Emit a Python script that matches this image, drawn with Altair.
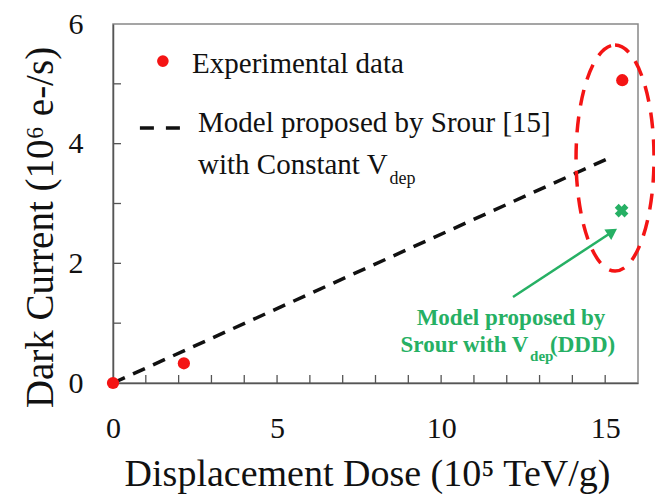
import altair as alt
import pandas as pd

# ---- data ----
exp_x = [0.0, 2.16, 15.52]
exp_y = [0.0, 0.33, 5.06]
model_x = [0.0, 15.24]
model_y = [0.0, 3.79]
ddd_x = [15.50]
ddd_y = [2.88]

x_ticks = list(range(1, 16))
y_ticks = [1, 2, 3, 4, 5]

# annotation anchors (data units)
ellipse_x = [15.30]
ellipse_y = [3.76]
leg_dot_x = [1.52]
leg_dot_y = [5.38]
leg_line_x = [0.82, 2.05]
leg_line_y = [4.262, 4.262]
arrow_x = [12.19]
arrow_y = [1.437]
arrow_x2 = [15.22]
arrow_y2 = [2.528]

FONT = "Liberation Serif"
RED = "#f41414"
GREEN = "#26b064"

XS = alt.Scale(domain=[0, 16], nice=False, zero=False)
YS = alt.Scale(domain=[0, 6], nice=False, zero=False)

x_axis = alt.Axis(values=[0, 5, 10, 15], ticks=False, tickSize=0, grid=False,
                  labelFont=FONT, labelFontSize=30, labelPadding=30, labelColor="#111",
                  labelFlush=False, labelOverlap=False,
                  domainColor="#555", domainWidth=1.5,
                  title="Displacement Dose (10\u2075 TeV/g)", titleFont=FONT,
                  titleFontSize=38, titleFontWeight="normal", titleColor="#111",
                  titleX=254, titleY=102, titleAlign="center", titleBaseline="alphabetic")
y_axis = alt.Axis(values=[0, 2, 4, 6], ticks=False, tickSize=0, grid=False,
                  labelFont=FONT, labelFontSize=30, labelPadding=30, labelColor="#111",
                  labelFlush=False, labelOverlap=False,
                  domainColor="#555", domainWidth=1.5,
                  title="Dark Current (10\u2076 e-/s)", titleFont=FONT,
                  titleFontSize=39, titleFontWeight="normal", titleColor="#111",
                  titleX=-61, titleY=203, titleAngle=270, titleAlign="center",
                  titleBaseline="alphabetic")


def X(f="x"):
    return alt.X(f"{f}:Q", scale=XS, axis=x_axis)


def Y(f="y"):
    return alt.Y(f"{f}:Q", scale=YS, axis=y_axis)


exp_df = pd.DataFrame({"x": exp_x, "y": exp_y})
model_df = pd.DataFrame({"x": model_x, "y": model_y})
ddd_df = pd.DataFrame({"x": ddd_x, "y": ddd_y})

model_line = alt.Chart(model_df).mark_line(
    color="#111", strokeWidth=3.5, strokeDash=[13, 9], clip=False
).encode(x=X(), y=Y())

exp_pts = alt.Chart(exp_df).mark_point(
    shape="circle", filled=True, color=RED, size=150, opacity=1
).encode(x=X(), y=Y())

ddd_pts = alt.Chart(ddd_df).mark_point(
    shape="cross", filled=True, color=GREEN, size=190, angle=45, opacity=1
).encode(x=X(), y=Y())

# inward ticks
xt = alt.Chart(pd.DataFrame({"x": x_ticks})).mark_rule(color="#555", strokeWidth=1.3).encode(
    x=X(), y=alt.value(359), y2=alt.value(351))
yt = alt.Chart(pd.DataFrame({"y": y_ticks})).mark_rule(color="#555", strokeWidth=1.3).encode(
    y=Y(), x=alt.value(0), x2=alt.value(8))

# dashed ellipse around the 15.5 points (bezier approximation, unit height)
ell_path = ("M 0 -1 C 0.1905 -1 0.345 -0.5523 0.345 0 "
            "C 0.345 0.5523 0.1905 1 0 1 "
            "C -0.1905 1 -0.345 0.5523 -0.345 0 "
            "C -0.345 -0.5523 -0.1905 -1 0 -1 Z")
ellipse = alt.Chart(pd.DataFrame({"x": ellipse_x, "y": ellipse_y})).mark_point(
    shape=ell_path, size=51076, filled=False, stroke=RED, strokeWidth=3.5,
    strokeDash=[16, 11], opacity=1
).encode(x=X(), y=Y())

# legend
leg_dot = alt.Chart(pd.DataFrame({"x": leg_dot_x, "y": leg_dot_y})).mark_point(
    shape="circle", filled=True, color=RED, size=135, opacity=1
).encode(x=X(), y=Y())
leg_line = alt.Chart(pd.DataFrame({"x": leg_line_x, "y": leg_line_y})).mark_line(
    color="#111", strokeWidth=3.5, strokeDash=[14, 12]
).encode(x=X(), y=Y())


def label(text, x, y, size, color="#111", weight="normal", align="left"):
    return alt.Chart(pd.DataFrame({"x": [x], "y": [y], "t": [text]})).mark_text(
        font=FONT, fontSize=size, fontWeight=weight, color=color, align=align,
        baseline="alphabetic"
    ).encode(x=X(), y=Y(), text="t:N")


texts = [
    label("Experimental data", 2.41, 5.18, 29),
    label("Model proposed by Srour [15]", 2.59, 4.195, 29),
    label("with Constant V", 2.59, 3.493, 29),
    label("dep", 8.43, 3.326, 18),
    label("Model proposed by", 12.13, 0.969, 23, GREEN, "bold", "center"),
    label("Srour with V", 12.66, 0.518, 23, GREEN, "bold", "right"),
    label("dep", 12.71, 0.37, 15, GREEN, "bold", "left"),
    label("(DDD)", 13.32, 0.518, 23, GREEN, "bold", "left"),
]

# arrow
arrow_df = pd.DataFrame({"x": arrow_x, "y": arrow_y, "x2": arrow_x2, "y2": arrow_y2})
arrow_line = alt.Chart(arrow_df).mark_rule(color=GREEN, strokeWidth=2.5).encode(
    x=X(), y=Y(), x2="x2:Q", y2="y2:Q")
arrow_head = alt.Chart(arrow_df).mark_point(
    shape="triangle-up", filled=True, color=GREEN, size=160, angle=57, opacity=1
).encode(x=X("x2"), y=Y("y2"))

chart = alt.layer(
    xt, yt, model_line, ellipse, arrow_line, arrow_head, exp_pts, ddd_pts,
    leg_dot, leg_line, *texts
).properties(
    width=525, height=359,
    autosize=alt.AutoSizeParams(type="none"),
    padding={"left": 113, "top": 24, "right": 17, "bottom": 111},
    background="white",
).configure_view(stroke="#888", strokeWidth=1.5)

chart.save("out.html", embed_options={"renderer": "svg", "actions": False})
